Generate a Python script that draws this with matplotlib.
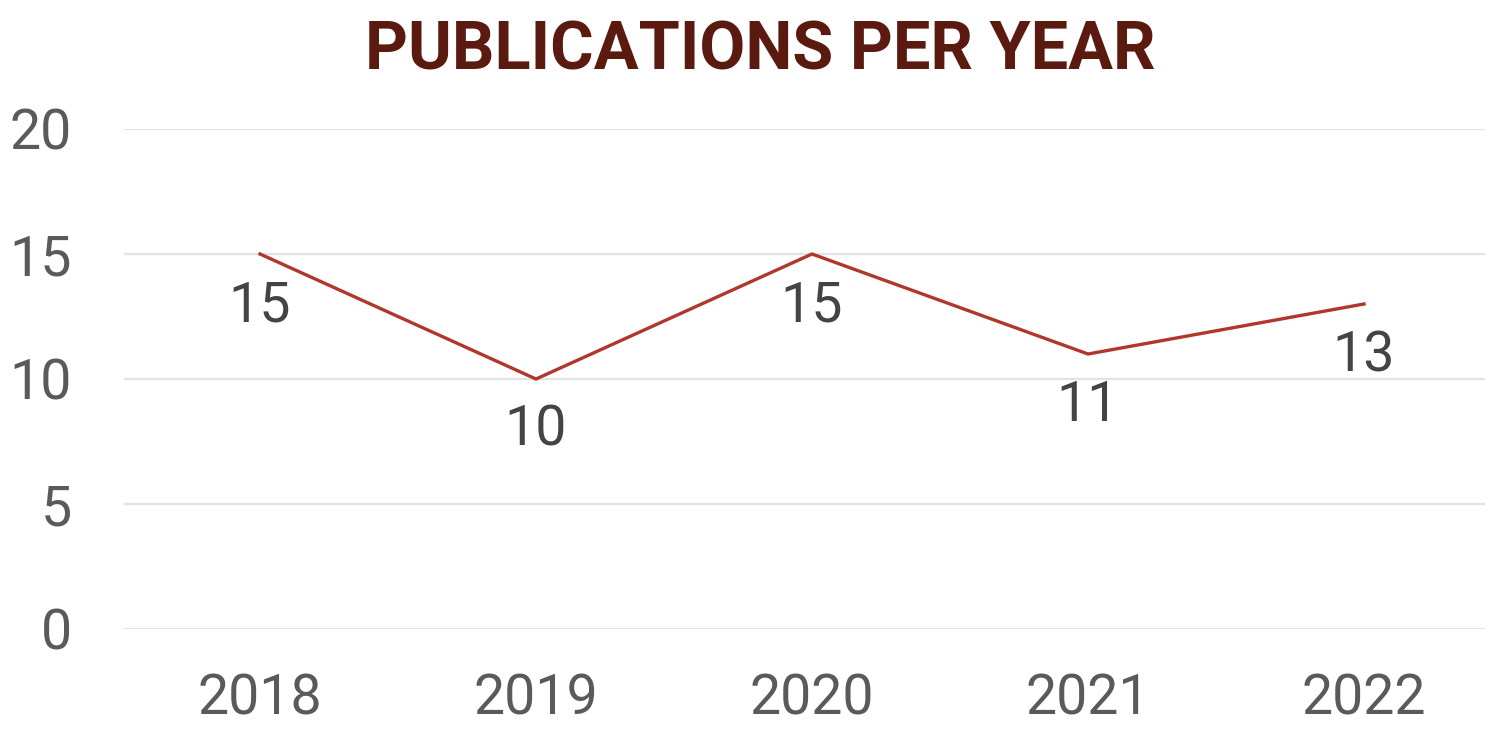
import matplotlib
matplotlib.use("Agg")
import matplotlib.pyplot as plt

years = ["2018", "2019", "2020", "2021", "2022"]
publications = [15, 10, 15, 11, 13]
y_ticks = [0, 5, 10, 15, 20]

plt.rcParams['font.family'] = ['Roboto', 'DejaVu Sans']

fig = plt.figure(figsize=(15, 7.32), dpi=100)
ax = fig.add_axes([122/1500, 1 - 629/732, 1380/1500, 500/732])

x = list(range(len(years)))
for t in y_ticks:
    ax.axhline(t, xmin=0.002, xmax=0.987, color='#e3e3e3', lw=1.6, zorder=1)
ax.plot(x, publications, color='#b0372b', lw=2.4, zorder=3, solid_joinstyle='miter')

for xi, v in zip(x, publications):
    ax.annotate(str(v), (xi, v), xytext=(0, -18), textcoords='offset points',
                ha='center', va='top', fontsize=40, color='#444444')

ax.set_xlim(-0.5, 4.5)
ax.set_ylim(0, 20)
ax.set_xticks(x)
ax.set_xticklabels(years)
ax.set_yticks(y_ticks)
ax.tick_params(axis='both', length=0, labelsize=40, labelcolor='#5a5a5a')
ax.tick_params(axis='y', pad=36)
ax.tick_params(axis='x', pad=31)
for s in ax.spines.values():
    s.set_visible(False)

fig.text(760/1500, 1 - 69/732, "PUBLICATIONS PER YEAR", ha='center', va='baseline',
         fontsize=48, fontweight='bold', color='#5a1a0f')

fig.savefig("out.png", dpi=100, facecolor='white')
